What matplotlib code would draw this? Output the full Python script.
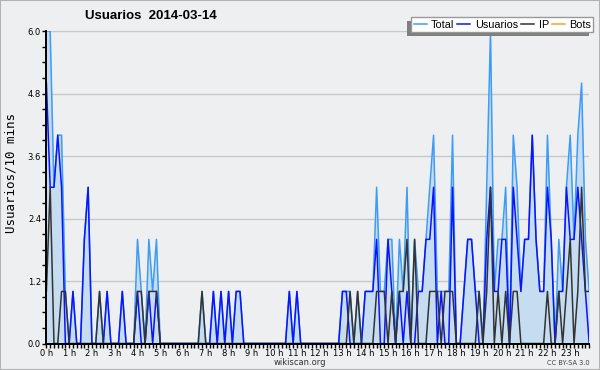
import matplotlib
matplotlib.use("Agg")
import matplotlib.pyplot as plt
from matplotlib.patches import Rectangle
import numpy as np

# Users per 10-minute slot, 2014-03-14 (144 slots, 12 per row = 2 hours)
TOTAL = [
    6, 6, 3, 4, 4, 1, 0, 1, 0, 0, 2, 3,
    0, 0, 1, 0, 1, 0, 0, 0, 1, 0, 0, 0,
    2, 1, 0, 2, 1, 2, 0, 0, 0, 0, 0, 0,
    0, 0, 0, 0, 0, 1, 0, 0, 1, 0, 1, 0,
    1, 0, 1, 1, 0, 0, 0, 0, 0, 0, 0, 0,
    0, 0, 0, 0, 1, 0, 1, 0, 0, 0, 0, 0,
    0, 0, 0, 0, 0, 0, 1, 1, 1, 0, 1, 0,
    1, 1, 1, 3, 1, 1, 2, 2, 0, 2, 1, 3,
    0, 2, 1, 1, 2, 3, 4, 1, 1, 1, 1, 4,
    0, 0, 1, 2, 2, 1, 1, 0, 3, 6, 1, 2,
    2, 3, 0, 4, 3, 1, 2, 2, 4, 2, 1, 1,
    4, 2, 0, 2, 1, 3, 4, 2, 4, 5, 2, 1,
]
USUARIOS = [
    5, 3, 3, 4, 3, 0, 0, 1, 0, 0, 2, 3,
    0, 0, 0, 0, 1, 0, 0, 0, 1, 0, 0, 0,
    1, 0, 0, 1, 0, 1, 0, 0, 0, 0, 0, 0,
    0, 0, 0, 0, 0, 0, 0, 0, 1, 0, 1, 0,
    1, 0, 1, 1, 0, 0, 0, 0, 0, 0, 0, 0,
    0, 0, 0, 0, 1, 0, 1, 0, 0, 0, 0, 0,
    0, 0, 0, 0, 0, 0, 1, 1, 0, 0, 0, 0,
    1, 1, 1, 2, 0, 0, 2, 1, 0, 1, 0, 1,
    0, 0, 1, 1, 2, 2, 3, 0, 1, 0, 0, 3,
    0, 0, 1, 2, 2, 1, 0, 0, 2, 3, 1, 1,
    2, 2, 0, 3, 2, 1, 2, 2, 4, 2, 1, 1,
    3, 2, 0, 1, 1, 3, 2, 2, 3, 2, 1, 0,
]
IP = [
    1, 3, 0, 0, 1, 1, 0, 0, 0, 0, 0, 0,
    0, 0, 1, 0, 0, 0, 0, 0, 0, 0, 0, 0,
    1, 1, 0, 1, 1, 1, 0, 0, 0, 0, 0, 0,
    0, 0, 0, 0, 0, 1, 0, 0, 0, 0, 0, 0,
    0, 0, 0, 0, 0, 0, 0, 0, 0, 0, 0, 0,
    0, 0, 0, 0, 0, 0, 0, 0, 0, 0, 0, 0,
    0, 0, 0, 0, 0, 0, 0, 0, 1, 0, 1, 0,
    0, 0, 0, 1, 1, 1, 0, 1, 0, 1, 1, 2,
    0, 2, 0, 0, 0, 1, 1, 1, 0, 1, 1, 1,
    0, 0, 0, 0, 0, 0, 1, 0, 1, 3, 0, 1,
    0, 1, 0, 1, 1, 0, 0, 0, 0, 0, 0, 0,
    1, 0, 0, 1, 0, 1, 2, 0, 1, 3, 1, 1,
]
BOTS = [0] * 144

HOUR_LABELS = ["%d h" % h for h in range(24)]
YTICKS = [0.0, 1.2, 2.4, 3.6, 4.8, 6.0]

BG = "#eeeff0"

fig = plt.figure(figsize=(6, 3.7), dpi=100, facecolor=BG)
fig.patches.append(Rectangle((0, 0), 1, 1, transform=fig.transFigure,
                             facecolor="none", edgecolor="#b4b4b4",
                             linewidth=1.5, zorder=10))
ax = fig.add_axes([0.0773, 0.0716, 0.9047, 0.8446], facecolor=BG)

x = np.arange(len(TOTAL))
ax.fill_between(x, TOTAL, 0, color="#c6dcf0", linewidth=0, zorder=1)
ax.plot(x, BOTS, color="#ffa020", lw=1.1, label="Bots", zorder=1.5)
ax.plot(x, TOTAL, color="#3d9cf5", lw=1.1, label="Total", zorder=2)
ax.plot(x, USUARIOS, color="#0a14ff", lw=1.1, label="Usuarios", zorder=3)
ax.plot(x, IP, color="#333333", lw=1.1, label="IP", zorder=4)

ax.set_xlim(0, 143)
ax.set_ylim(0, 6)
ax.set_xticks(np.arange(0, 144, 6))
ax.set_xticklabels(HOUR_LABELS)
ax.set_xticks(np.arange(0, 144, 1), minor=True)
ax.set_yticks(YTICKS)
ax.set_yticklabels(["%.1f" % v for v in YTICKS])
ax.set_yticks(np.arange(0, 6.01, 0.3), minor=True)
ax.tick_params(axis="both", which="major", direction="out", length=3,
               width=1, labelsize=6, pad=0.8, colors="black")
ax.tick_params(axis="both", which="minor", direction="out", length=3,
               width=1)
ax.grid(axis="y", which="major", color="#c8c8c8", lw=1)
ax.set_axisbelow(True)
for side in ("top", "right"):
    ax.spines[side].set_visible(False)
for side in ("left", "bottom"):
    ax.spines[side].set_linewidth(1.4)
    ax.spines[side].set_zorder(6)

ax.set_ylabel("Usuarios/10 mins", family="DejaVu Sans Mono", fontsize=9)
ax.yaxis.set_label_coords(-0.054, 0.545)
fig.text(0.252, 0.957, "Usuarios  2014-03-14", family="Liberation Sans",
         weight="bold", fontsize=9.5, ha="center", va="center")
fig.text(0.5, 0.02, "wikiscan.org", fontsize=6, color="#333333",
         ha="center", va="center")
fig.text(0.983, 0.02, "CC BY-SA 3.0", fontsize=4.8, color="#444444",
         ha="right", va="center")

handles, labels = ax.get_legend_handles_labels()
order = [labels.index(k) for k in ("Total", "Usuarios", "IP", "Bots")]
leg = fig.legend([handles[i] for i in order], [labels[i] for i in order],
                 loc="upper right", bbox_to_anchor=(0.989, 0.953),
                 ncol=4, prop={"family": "Liberation Sans", "size": 7.8},
                 frameon=True, fancybox=False, borderpad=0.2,
                 handlelength=1.2, handletextpad=0.4, columnspacing=0.3,
                 borderaxespad=0)
leg.get_frame().set_edgecolor("#999999")
leg.get_frame().set_facecolor("white")
leg.get_frame().set_alpha(1)
leg.set_zorder(8)

# drop shadow to the lower left of the legend box
fig.canvas.draw()
bb = leg.get_window_extent()
W, H = fig.bbox.width, fig.bbox.height
fig.patches.append(Rectangle(((bb.x0 - 4) / W, (bb.y0 - 4) / H),
                             bb.width / W, bb.height / H,
                             transform=fig.transFigure, facecolor="#808080",
                             edgecolor="none", zorder=7))

fig.savefig("out.png", dpi=100, facecolor=BG)
